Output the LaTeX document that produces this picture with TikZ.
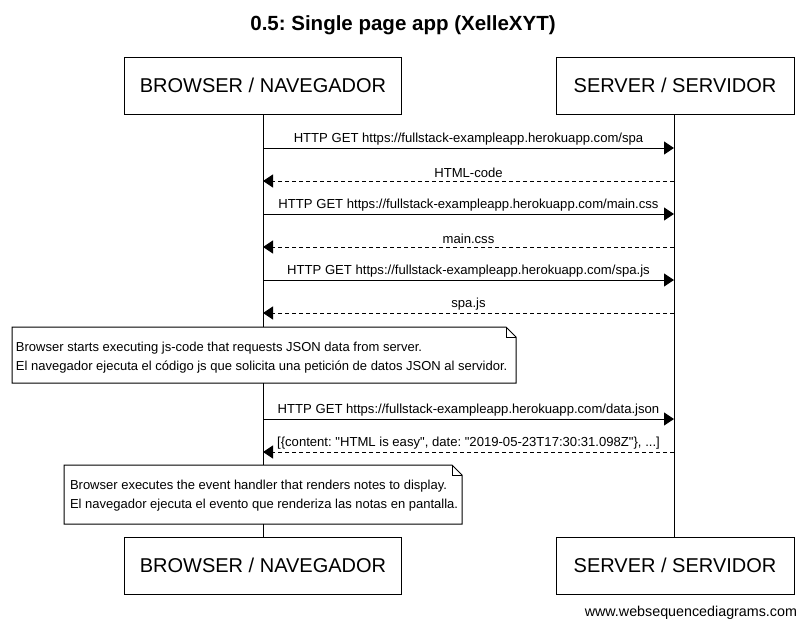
\documentclass[tikz,border=0pt]{standalone}
\usepackage{fontspec}
\setmainfont{Liberation Sans}
\newfontfamily\plainfont{Liberation Sans}
\usetikzlibrary{arrows.meta}
\frenchspacing
\begin{document}
\frenchspacing
\begin{tikzpicture}[x=1pt,y=-1pt,
  every node/.style={inner sep=0pt, outer sep=0pt},
  actor/.style={draw, line width=1pt, minimum height=57pt, font=\fontsize{20}{24}\selectfont},
  life/.style={line width=1pt},
  msg/.style={line width=1pt, -{Triangle[length=10pt,width=13pt]}},
  reply/.style={msg, dash pattern=on 4pt off 3pt},
  lbl/.style={font=\plainfont\fontsize{13.1}{15}\selectfont, above=3pt, fill=white, inner xsep=1pt},
  notetext/.style={font=\fontsize{13}{19}\selectfont, align=left, anchor=west},
  notebox/.style={line width=1pt}
]
\useasboundingbox (0,0) rectangle (805,629);
\fill[white] (0,0) rectangle (805,629);

\node[font=\bfseries\fontsize{20.5}{24}\selectfont] (title) at (403,25) {0.5: Single page app (XelleXYT)};

\node[actor, minimum width=277pt] (bt) at (263,85.5) {BROWSER / NAVEGADOR};
\node[actor, minimum width=238pt] (st) at (675,85.5) {SERVER / SERVIDOR};
\node[actor, minimum width=277pt] (bb) at (263,565.5) {BROWSER / NAVEGADOR};
\node[actor, minimum width=238pt] (sb) at (675,565.5) {SERVER / SERVIDOR};

\draw[life] (bt.south) -- (bb.north);
\draw[life] (st.south -| 674,0) -- (sb.north -| 674,0);

% message coordinates
\foreach \i/\y in {1/148,2/181,3/214,4/247,5/280,6/313,7/419,8/452}{
  \coordinate (b\i) at (263,\y);
  \coordinate (s\i) at (674,\y);
}

\draw[msg] (b1) -- node[lbl]{HTTP GET https://fullstack-exampleapp.herokuapp.com/spa} (s1);
\draw[reply] (s2) -- node[lbl]{HTML-code} (b2);
\draw[msg] (b3) -- node[lbl]{HTTP GET https://fullstack-exampleapp.herokuapp.com/main.css} (s3);
\draw[reply] (s4) -- node[lbl]{main.css} (b4);
\draw[msg] (b5) -- node[lbl]{HTTP GET https://fullstack-exampleapp.herokuapp.com/spa.js} (s5);
\draw[reply] (s6) -- node[lbl]{spa.js} (b6);
\draw[msg] (b7) -- node[lbl]{HTTP GET https://fullstack-exampleapp.herokuapp.com/data.json} (s7);
\draw[reply] (s8) -- node[lbl]{[\{content: "HTML is easy", date: "2019-05-23T17:30:31.098Z"\}, ...]} (b8);

% note 1
\coordinate (n1a) at (12,327);
\coordinate (n1b) at (516,383);
\fill[white] (n1a) rectangle (n1b);
\draw[notebox] (12,327) -- (506,327) -- (516,337) -- (516,383) -- (12,383) -- cycle;
\draw[notebox] (506,327) -- (506,337) -- (516,337);
\node[notetext] (note1) at (16,357.5) {Browser starts executing js-code that requests JSON data from server.\\El navegador ejecuta el código js que solicita una petición de datos JSON al servidor.};

% note 2
\coordinate (n2a) at (64,465);
\coordinate (n2b) at (462,524);
\fill[white] (n2a) rectangle (n2b);
\draw[notebox] (64,465) -- (452,465) -- (462,475) -- (462,524) -- (64,524) -- cycle;
\draw[notebox] (452,465) -- (452,475) -- (462,475);
\node[notetext] (note2) at (70,495.5) {Browser executes the event handler that renders notes to display.\\El navegador ejecuta el evento que renderiza las notas en pantalla.};

\node[anchor=east, font=\fontsize{14.3}{16}\selectfont] (footer) at (797,613) {www.websequencediagrams.com};
\end{tikzpicture}
\end{document}
